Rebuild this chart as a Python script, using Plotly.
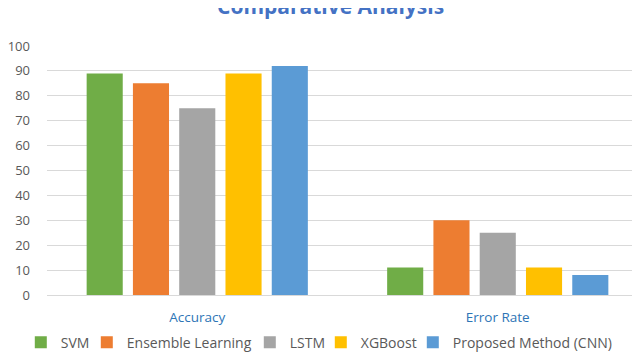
import plotly.graph_objects as go

# ── data ─────────────────────────────────────────────────────────────
categories = ["Accuracy", "Error Rate"]
models = ["SVM", "Ensemble Learning", "LSTM", "XGBoost", "Proposed Method (CNN)"]
svm_vals = [89, 11]
ensemble_vals = [85, 30]
lstm_vals = [75, 25]
xgboost_vals = [89, 11]
cnn_vals = [92, 8]
y_ticks = [0, 10, 20, 30, 40, 50, 60, 70, 80, 90, 100]

series = [svm_vals, ensemble_vals, lstm_vals, xgboost_vals, cnn_vals]
colors = ["#70AD47", "#ED7D31", "#A5A5A5", "#FFC000", "#5B9BD5"]
legend_widths = [21, 118, 26, 47, 158]

FONT = "Open Sans"

fig = go.Figure()

for name, vals, color, lw in zip(models, series, colors, legend_widths):
    fig.add_trace(
        go.Bar(
            x=categories,
            y=vals,
            name=name,
            marker=dict(color=color, line=dict(width=0)),
            legendwidth=lw,
        )
    )

# title sits partly clipped at the very top, as in the reference
fig.add_annotation(
    text="<b>Comparative Analysis</b>",
    xref="paper", yref="paper",
    x=0.471, y=1.096,
    xanchor="center", yanchor="bottom",
    showarrow=False,
    font=dict(family=FONT, size=21, color="#4472C4"),
)

fig.update_layout(
    width=640,
    height=354,
    margin=dict(l=39, r=0, t=38, b=67, autoexpand=False),
    paper_bgcolor="white",
    plot_bgcolor="white",
    barmode="group",
    bargap=0.23,
    bargroupgap=0.22,
    font=dict(family=FONT, color="#595959"),
    showlegend=True,
    legend=dict(
        orientation="h",
        x=0.02, y=0.055,
        xref="container", yref="container",
        xanchor="left", yanchor="middle",
        font=dict(family=FONT, size=14, color="#595959"),
        traceorder="normal",
    ),
)

fig.update_xaxes(
    showgrid=False,
    showline=True,
    linecolor="#D9D9D9",
    linewidth=1,
    ticks="",
    ticklabelstandoff=10,
    tickfont=dict(family=FONT, size=13.5, color="#2E75B6"),
)

fig.update_yaxes(
    range=[0, 100],
    tickvals=y_ticks,
    showgrid=True,
    gridcolor="#D9D9D9",
    gridwidth=1,
    zeroline=False,
    showline=False,
    ticks="",
    ticklabelstandoff=16,
    tickfont=dict(family=FONT, size=13, color="#595959"),
)

fig.write_html("out.html")
